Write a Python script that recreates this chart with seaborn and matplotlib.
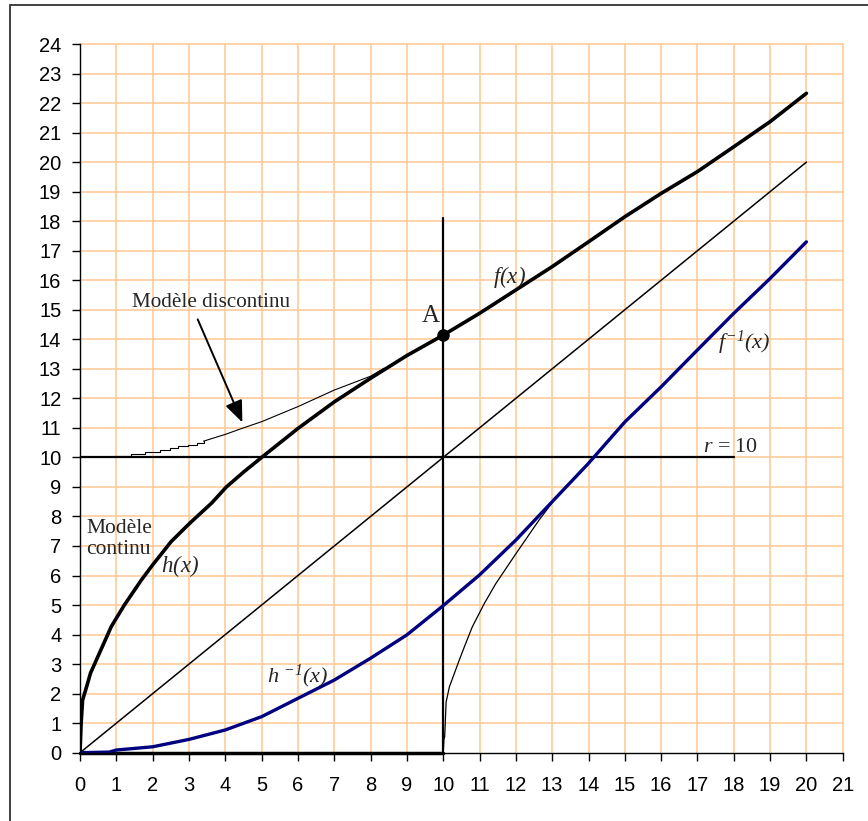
import matplotlib
matplotlib.use("Agg")
import matplotlib.pyplot as plt
from matplotlib.patches import Rectangle
import seaborn as sns

sns.set_theme(style="white")
plt.rcParams["font.family"] = ["Liberation Sans", "DejaVu Sans"]
plt.rcParams["mathtext.fontset"] = "custom"
plt.rcParams["mathtext.it"] = "Liberation Serif:italic"
plt.rcParams["mathtext.rm"] = "Liberation Serif:italic"

# continuous model h(x), continued as f(x)
f_x = [0, 0.03, 0.07, 0.18, 0.29, 0.45, 0.86, 1.22, 1.69, 2.0, 2.51, 3.02, 3.62, 4.03,
       4.5, 5, 6, 7, 8, 9, 10, 11, 12, 13, 14, 15, 16, 17, 18, 19, 20]
f_y = [0, 1.0, 1.78, 2.23, 2.7, 3.14, 4.27, 5.0, 5.85, 6.36, 7.15, 7.77, 8.45, 9.0,
       9.5, 10.0, 10.98, 11.88, 12.68, 13.45, 14.14, 14.88, 15.67, 16.46, 17.3, 18.15,
       18.94, 19.68, 20.52, 21.37, 22.33]

# inverse h^-1(x), continued as f^-1(x)
fi_x = [0, 0.8, 1, 2, 3, 4, 5, 6, 7, 8, 9, 10, 11, 12, 13, 14, 15, 16, 17, 18, 19, 20]
fi_y = [0, 0.02, 0.09, 0.2, 0.45, 0.77, 1.22, 1.84, 2.46, 3.2, 3.99, 4.98, 6.02, 7.2,
        8.5, 9.8, 11.2, 12.39, 13.64, 14.88, 16.06, 17.3]

# discontinuous model above r = 10: visible staircase, then a finer rise
du_step_x = [0.92, 1.4, 1.79, 2.2, 2.48, 2.71, 2.98, 3.21, 3.4]
du_step_y = [10.05, 10.12, 10.18, 10.25, 10.31, 10.37, 10.42, 10.48, 10.55]
du_x = [3.4, 4.0, 4.5, 5.0, 6.0, 7.0, 8.0, 8.37]
du_y = [10.55, 10.78, 11.0, 11.21, 11.72, 12.28, 12.75, 13.02]

# inverse of the discontinuous model
dl_x = [10, 10.02, 10.04, 10.08, 10.17, 10.44, 10.58, 10.8, 11.13, 11.45, 11.98, 12.64, 12.99]
dl_y = [0, 0.45, 0.54, 1.72, 2.23, 3.13, 3.58, 4.26, 5.05, 5.73, 6.7, 7.88, 8.45]

diag_x = [0, 20]
diag_y = [0, 20]
r_level = 10
r_end = 18
x_a = 10
vline_top = 18.1
a_y = 14.14

x_ticks = list(range(0, 22))
y_ticks = list(range(0, 25))

fig = plt.figure(figsize=(8.68, 8.21), dpi=100)
ax = fig.add_axes([0.0922, 0.0832, 0.8787, 0.8632])

grid_c = "#FFCC99"
for t in x_ticks[1:]:
    ax.axvline(t, color=grid_c, lw=1.2, zorder=0, clip_on=False)
for t in y_ticks[1:]:
    ax.axhline(t, color=grid_c, lw=1.2, zorder=0, clip_on=False)

line_kw = dict(ax=ax, sort=False, estimator=None)
sns.lineplot(x=diag_x, y=diag_y, color="black", lw=1.1, **line_kw)
sns.lineplot(x=[0, r_end], y=[r_level, r_level], color="black", lw=1.6, **line_kw)
sns.lineplot(x=[x_a, x_a], y=[0, vline_top], color="black", lw=1.6, **line_kw)
sns.lineplot(x=[0, 10], y=[0, 0], color="black", lw=2.5, clip_on=False, **line_kw)
sns.lineplot(x=du_step_x, y=du_step_y, color="black", lw=0.8, drawstyle="steps-post",
             **line_kw)
sns.lineplot(x=du_x, y=du_y, color="black", lw=0.8, **line_kw)
sns.lineplot(x=dl_x, y=dl_y, color="black", lw=0.9, **line_kw)
sns.lineplot(x=fi_x, y=fi_y, color="#000080", lw=2.4, **line_kw)
sns.lineplot(x=f_x, y=f_y, color="black", lw=2.6, **line_kw)
ax.plot([x_a], [a_y], "o", color="black", ms=8, zorder=5)

ax.set_xlim(0, 21)
ax.set_ylim(0, 24)
ax.set_xticks(x_ticks)
ax.set_yticks(y_ticks)
ax.tick_params(axis="both", direction="out", length=5.5, width=1, color="black",
               labelsize=14.5, labelcolor="black", bottom=True, left=True)
ax.tick_params(axis="x", pad=11)
ax.tick_params(axis="y", pad=8)
for s in ["top", "right"]:
    ax.spines[s].set_visible(False)
for s in ["left", "bottom"]:
    ax.spines[s].set_color("black")
    ax.spines[s].set_linewidth(1.0)
ax.set_xlabel("")
ax.set_ylabel("")
ax.grid(False)

serif = "Liberation Serif"
ax.text(1.43, 15.23, "Modèle discontinu", family=serif, fontsize=15.2, va="center",
        ha="left")
ax.annotate("", xy=(4.5, 11.1), xytext=(3.21, 14.76),
            arrowprops=dict(arrowstyle="-|>,head_length=1.1,head_width=0.45",
                            color="black", lw=1.4))
ax.text(0.17, 7.24, "Modèle\ncontinu", family=serif, fontsize=15.5, va="center",
        ha="left", linespacing=1.15)
ax.text(9.67, 14.8, "A", family=serif, fontsize=18, va="center", ha="center")
ax.text(11.82, 16.1, r"$f(x)$", fontsize=16.5, va="center", ha="center")
ax.text(18.3, 13.87, r"$f^{-1}(x)$", fontsize=16, va="center", ha="center")
ax.text(2.75, 6.32, r"$h(x)$", fontsize=16.5, va="center", ha="center")
ax.text(6.0, 2.6, r"$h\ ^{-1}(x)$", fontsize=16, va="center", ha="center")
ax.text(17.16, 10.32, r"$r$ = 10", family=serif, fontsize=15.8, va="center", ha="left")

fig.add_artist(Rectangle((10 / 868, -0.1), 1.2, 1 - 5 / 821 + 0.1, fill=False,
                         transform=fig.transFigure, ec="#333333", lw=1.3))

fig.savefig("out.png", dpi=100)
